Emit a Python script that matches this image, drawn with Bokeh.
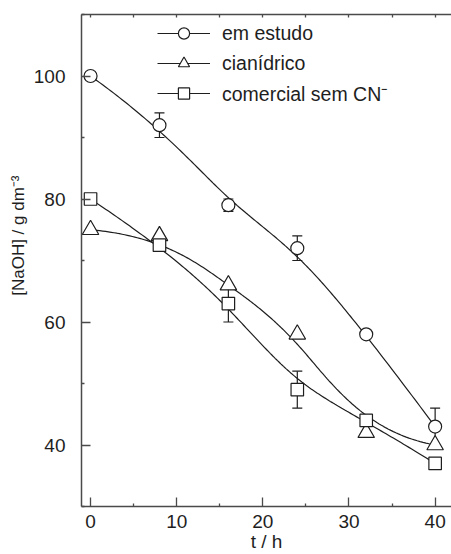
import numpy as np
from bokeh.plotting import figure
from bokeh.models import (Range1d, LinearAxis, FixedTicker, Legend, LegendItem,
                          Whisker, TeeHead, ColumnDataSource, Title)
from bokeh.embed import file_html
from bokeh.resources import INLINE

# ---- data ----
t_h = [0, 8, 16, 24, 32, 40]
em_estudo = [100, 92, 79, 72, 58, 43]
em_estudo_err = [0, 2, 1, 2, 0, 3]
cianidrico = [75, 74, 66, 58, 42, 40]
cianidrico_err = [0, 0, 0, 0, 0, 0]
comercial = [80, 72.5, 63, 49, 44, 37]
comercial_err = [0, 0, 3, 3, 0, 0]
labels = ["em estudo", "cianídrico", "comercial sem CN⁻"]
x_ticks = [0, 10, 20, 30, 40]
y_ticks = [40, 60, 80, 100]

FONT = "Liberation Sans"
INK = "#1e1e1e"
AXC = "#4a4a4a"


def bspline_curve(xs, ys, n=200):
    """Clamped cubic B-spline using the data points as control points."""
    P = np.column_stack([xs, ys]).astype(float)
    k = 3
    m = len(P)
    knots = np.concatenate([np.zeros(k), np.arange(0, m - k + 1), np.full(k, m - k)]).astype(float)
    u = np.linspace(0, m - k, n)
    u[-1] -= 1e-9

    def N(i, p, uu):
        if p == 0:
            return np.where((knots[i] <= uu) & (uu < knots[i + 1]), 1.0, 0.0)
        d1 = knots[i + p] - knots[i]
        d2 = knots[i + p + 1] - knots[i + 1]
        out = np.zeros_like(uu)
        if d1 > 0:
            out += (uu - knots[i]) / d1 * N(i, p - 1, uu)
        if d2 > 0:
            out += (knots[i + p + 1] - uu) / d2 * N(i + 1, p - 1, uu)
        return out

    B = np.array([N(i, k, u) for i in range(m)])
    C = B.T @ P
    return C[:, 0], C[:, 1]


p = figure(width=451, height=554, x_range=Range1d(-1.05, 41.9), y_range=Range1d(30, 110),
           output_backend="svg", toolbar_location=None,
           min_border_left=81, min_border_right=0, min_border_top=14, min_border_bottom=0)
p.outline_line_color = None
p.grid.visible = False
p.background_fill_color = "white"

# axes styling
xa = p.xaxis[0]
xa.ticker = FixedTicker(ticks=x_ticks, minor_ticks=[5, 15, 25, 35])
ya = p.yaxis[0]
ya.ticker = FixedTicker(ticks=y_ticks, minor_ticks=[30, 50, 70, 90, 110])
for ax in (xa, ya):
    ax.axis_line_color = AXC
    ax.axis_line_width = 1.5
    ax.major_tick_line_color = AXC
    ax.major_tick_line_width = 1.3
    ax.minor_tick_line_color = AXC
    ax.minor_tick_line_width = 1.3
    ax.major_tick_in = 9
    ax.major_tick_out = 0
    ax.minor_tick_in = 3
    ax.minor_tick_out = 0
    ax.major_label_text_font = FONT
    ax.major_label_text_font_size = "19px"
    ax.major_label_text_color = INK
    ax.axis_label_text_font = FONT
    ax.axis_label_text_font_size = "19px"
    ax.axis_label_text_font_style = "normal"
    ax.axis_label_text_color = INK
ya.major_label_standoff = 16
xa.major_label_standoff = 8
xa.axis_label = "t / h"
xa.axis_label_standoff = 0

top = LinearAxis(ticker=FixedTicker(ticks=[0, 5, 10, 15, 20, 25, 30, 35, 40], minor_ticks=[]),
                 axis_line_color=AXC, axis_line_width=1.5,
                 major_tick_line_color=AXC, major_tick_line_width=1.3,
                 major_tick_in=3, major_tick_out=0, minor_tick_in=0, minor_tick_out=0,
                 major_label_text_color=None, major_label_text_font_size="0px",
                 major_label_standoff=0)
p.add_layout(top, "above")

ytitle = Title(text="[NaOH] / g dm⁻³", align="right", offset=161, text_font=FONT,
               text_font_size="17px", text_font_style="normal", text_color=INK, standoff=6)
p.add_layout(ytitle, "left")

series = [
    (em_estudo, em_estudo_err, "circle", 13),
    (cianidrico, cianidrico_err, "triangle", 16.5),
    (comercial, comercial_err, "square", 12.5),
]

items = []
for (vals, err, marker, size), lab in zip(series, labels):
    lo = [v - e for v, e in zip(vals, err)]
    hi = [v + e for v, e in zip(vals, err)]
    src = ColumnDataSource(dict(x=[t for t, e in zip(t_h, err) if e > 0],
                                lo=[l for l, e in zip(lo, err) if e > 0],
                                hi=[h for h, e in zip(hi, err) if e > 0]))
    if len(src.data["x"]):
        w = Whisker(base="x", lower="lo", upper="hi", source=src, level="underlay",
                    line_color=INK, line_width=1.2,
                    upper_head=TeeHead(size=10, line_color=INK, line_width=1.2),
                    lower_head=TeeHead(size=10, line_color=INK, line_width=1.2))
        p.add_layout(w)
    cx, cy = bspline_curve(t_h, vals)
    lr = p.line(cx, cy, line_color=INK, line_width=1.2)
    items.append((lab, lr, vals, marker, size))

legend_items = []
for lab, lr, vals, marker, size in items:
    sr = p.scatter(t_h, vals, marker=marker, size=size, fill_color="white",
                   line_color=INK, line_width=1.2)
    legend_items.append(LegendItem(label=lab, renderers=[lr, sr]))

legend = Legend(items=legend_items, location=(76, 399), glyph_width=53, glyph_height=28,
                spacing=2, padding=0, margin=0, label_standoff=12,
                border_line_color=None, background_fill_alpha=0,
                label_text_font=FONT, label_text_font_size="19.5px", label_text_color=INK)
p.add_layout(legend)

open("out.html", "w").write(file_html(p, INLINE))
